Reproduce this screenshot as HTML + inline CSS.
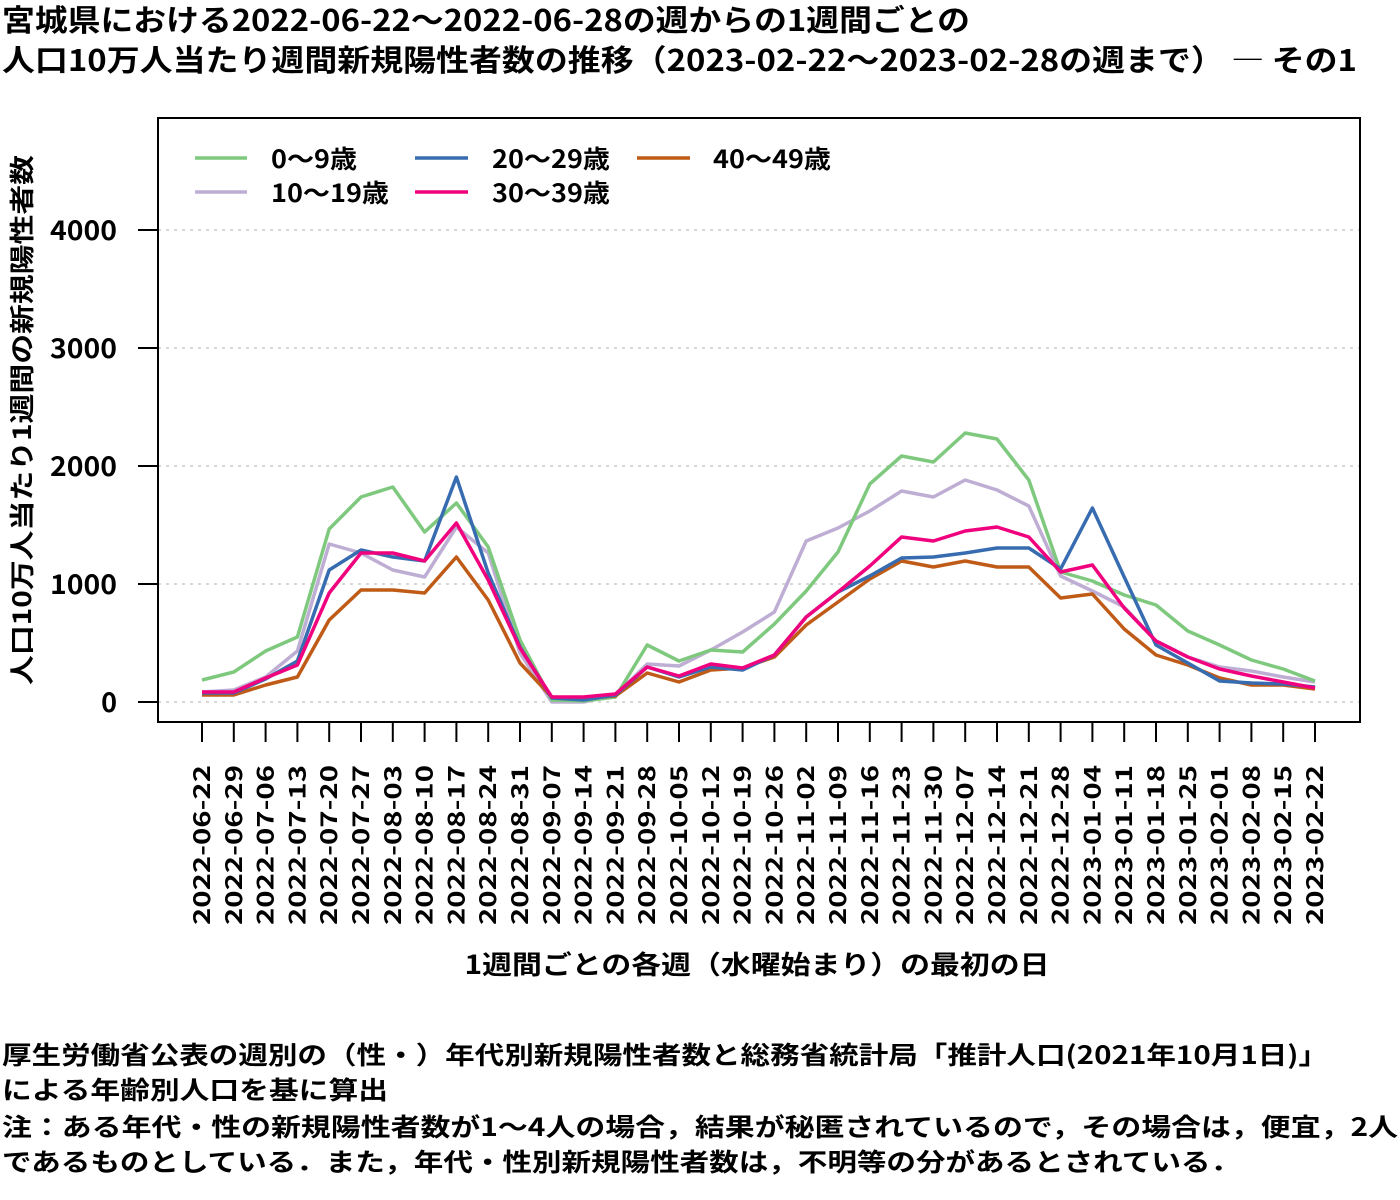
<!DOCTYPE html>
<html><head><meta charset="utf-8"><style>
html,body{margin:0;padding:0;background:#fff;}
svg{display:block;}
text{font-family:"Noto Sans CJK JP","Liberation Sans",sans-serif;font-weight:bold;fill:#000;}
</style></head><body>
<svg width="1400" height="1200" viewBox="0 0 1400 1200" xmlns="http://www.w3.org/2000/svg">
<text x="2" y="31" font-size="30" textLength="968" lengthAdjust="spacingAndGlyphs">宮城県における2022-06-22～2022-06-28の週からの1週間ごとの</text>
<text x="2" y="71" font-size="30" textLength="1355" lengthAdjust="spacingAndGlyphs">人口10万人当たり週間新規陽性者数の推移（2023-02-22～2023-02-28の週まで） ― その1</text>

<g stroke="#cccccc" stroke-width="1.5" stroke-dasharray="3,5">
<line x1="158" x2="1360" y1="702" y2="702"/><line x1="158" x2="1360" y1="584" y2="584"/>
<line x1="158" x2="1360" y1="466" y2="466"/><line x1="158" x2="1360" y1="348" y2="348"/>
<line x1="158" x2="1360" y1="230" y2="230"/>
</g>
<rect x="158" y="118" width="1202" height="604" fill="none" stroke="#000" stroke-width="2"/>
<g stroke="#000" stroke-width="2">
<line x1="138" x2="158" y1="702" y2="702"/><line x1="138" x2="158" y1="584" y2="584"/>
<line x1="138" x2="158" y1="466" y2="466"/><line x1="138" x2="158" y1="348" y2="348"/>
<line x1="138" x2="158" y1="230" y2="230"/>
</g>
<g font-size="27" text-anchor="end">
<text x="117" y="712">0</text><text x="117" y="594" textLength="67" lengthAdjust="spacingAndGlyphs">1000</text><text x="117" y="476" textLength="67" lengthAdjust="spacingAndGlyphs">2000</text><text x="117" y="358" textLength="67" lengthAdjust="spacingAndGlyphs">3000</text><text x="117" y="240" textLength="67" lengthAdjust="spacingAndGlyphs">4000</text>
</g>
<text transform="translate(31,420) rotate(-90)" font-size="25" text-anchor="middle" textLength="530" lengthAdjust="spacingAndGlyphs">人口10万人当たり1週間の新規陽性者数</text>

<g id="xt" stroke="#000" stroke-width="2"></g>
<g id="xl" font-size="23" text-anchor="end"></g>

<text x="757" y="974" font-size="26" text-anchor="middle" textLength="585" lengthAdjust="spacingAndGlyphs">1週間ごとの各週（水曜始まり）の最初の日</text>

<g fill="none" stroke-width="3.5" stroke-linejoin="round" id="series"></g>

<g stroke-width="3.5">
<line x1="195" x2="247" y1="158" y2="158" stroke="#7fc97f"/>
<line x1="195" x2="247" y1="192" y2="192" stroke="#beaed4"/>
<line x1="415" x2="468" y1="158" y2="158" stroke="#386cb0"/>
<line x1="415" x2="468" y1="192" y2="192" stroke="#f0027f"/>
<line x1="637" x2="690" y1="158" y2="158" stroke="#bf5b17"/>
</g>
<g font-size="25">
<text x="271" y="168" textLength="86" lengthAdjust="spacingAndGlyphs">0～9歳</text><text x="271" y="202" textLength="118" lengthAdjust="spacingAndGlyphs">10～19歳</text>
<text x="492" y="168" textLength="118" lengthAdjust="spacingAndGlyphs">20～29歳</text><text x="492" y="202" textLength="118" lengthAdjust="spacingAndGlyphs">30～39歳</text>
<text x="713" y="168" textLength="118" lengthAdjust="spacingAndGlyphs">40～49歳</text>
</g>

<g font-size="25">
<text x="2" y="1064" textLength="1326" lengthAdjust="spacingAndGlyphs">厚生労働省公表の週別の（性・）年代別新規陽性者数と総務省統計局「推計人口(2021年10月1日)」</text>
<text x="2" y="1099" textLength="386" lengthAdjust="spacingAndGlyphs">による年齢別人口を基に算出</text>
<text x="2" y="1136" textLength="1396" lengthAdjust="spacingAndGlyphs">注：ある年代・性の新規陽性者数が1～4人の場合，結果が秘匿されているので，その場合は，便宜，2人</text>
<text x="2" y="1171" textLength="1238" lengthAdjust="spacingAndGlyphs">であるものとしている．また，年代・性別新規陽性者数は，不明等の分があるとされている．</text>
</g>
<script>
var ns="http://www.w3.org/2000/svg";
var dates=["2022-06-22","2022-06-29","2022-07-06","2022-07-13","2022-07-20","2022-07-27","2022-08-03","2022-08-10","2022-08-17","2022-08-24","2022-08-31","2022-09-07","2022-09-14","2022-09-21","2022-09-28","2022-10-05","2022-10-12","2022-10-19","2022-10-26","2022-11-02","2022-11-09","2022-11-16","2022-11-23","2022-11-30","2022-12-07","2022-12-14","2022-12-21","2022-12-28","2023-01-04","2023-01-11","2023-01-18","2023-01-25","2023-02-01","2023-02-08","2023-02-15","2023-02-22"];
function X(i){return 202+i*31.8;}
var xt=document.getElementById("xt"),xl=document.getElementById("xl");
dates.forEach(function(d,i){
 var l=document.createElementNS(ns,"line");l.setAttribute("x1",X(i));l.setAttribute("x2",X(i));l.setAttribute("y1",722);l.setAttribute("y2",742);xt.appendChild(l);
 var t=document.createElementNS(ns,"text");t.setAttribute("transform","translate("+(X(i)+8)+",765) rotate(-90)");t.setAttribute("textLength","160");t.setAttribute("lengthAdjust","spacingAndGlyphs");t.textContent=d;xl.appendChild(t);
});
var S=[
["#beaed4",[692,690,677,651,544,553,570,577,527,553,653,702,702,695,664,666,650,632,612,541,528,511,491,497,480,490,506,576,591,607,641,657,667,671,677,682]],
["#7fc97f",[680,672,651,637,529,497,487,532,503,547,640,700,701,697,645,661,650,652,624,591,552,484,456,462,433,439,480,572,581,595,605,631,645,660,669,681]],
["#bf5b17",[695,695,685,677,620,590,590,593,557,600,663,697,698,696,673,682,670,668,657,625,602,579,561,567,561,567,567,598,594,629,655,665,678,685,685,689]],
["#386cb0",[693,693,679,661,570,550,557,561,477,573,647,698,700,695,667,677,667,670,655,617,592,576,558,557,553,548,548,569,508,577,645,663,681,683,684,687]],
["#f0027f",[692,692,678,665,593,553,553,561,523,580,648,697,697,694,667,676,664,668,655,617,592,566,537,541,531,527,537,572,565,608,641,657,669,676,682,688]]
];
var g=document.getElementById("series");
S.forEach(function(s){var p=document.createElementNS(ns,"polyline");p.setAttribute("stroke",s[0]);p.setAttribute("points",s[1].map(function(y,i){return X(i)+","+y;}).join(" "));g.appendChild(p);});
</script>
</svg>
</body></html>
